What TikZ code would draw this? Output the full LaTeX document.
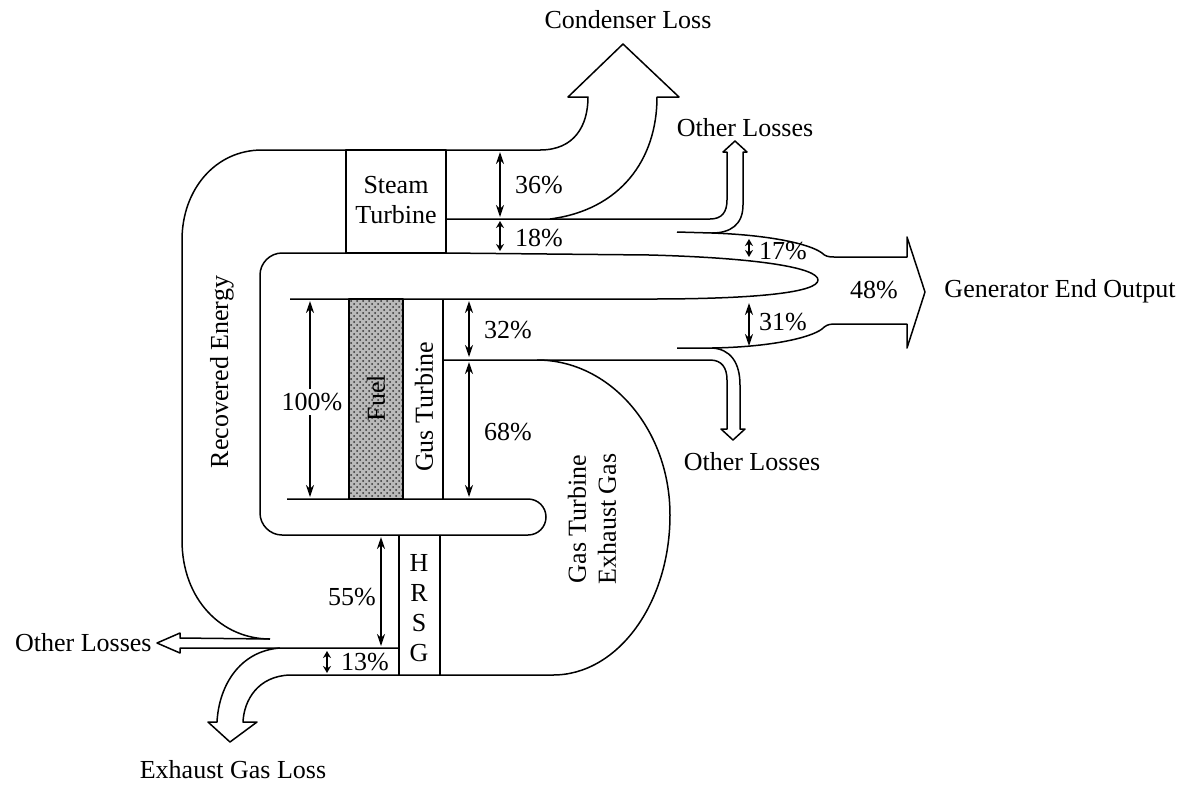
\documentclass[tikz,border=0pt]{standalone}
\usepackage{fontspec}
\setmainfont{Liberation Serif}
\usetikzlibrary{arrows.meta,patterns}
\begin{document}
\begin{tikzpicture}[x=0.5pt,y=-0.5pt,
  flow/.style={line width=0.75pt,line join=round},
  dim/.style={line width=0.75pt,{Stealth[length=6pt,width=4pt]}-{Stealth[length=6pt,width=4pt]}},
  smalldim/.style={line width=0.7pt,{Stealth[length=3.5pt,width=4pt]}-{Stealth[length=3.5pt,width=4pt]}},
  lbl/.style={font=\fontsize{13pt}{15pt}\selectfont, inner sep=1pt, align=center}]
\useasboundingbox (0,0) rectangle (1201,784);

% fuel fill
\fill[gray!55] (349,299) rectangle (403,499);
\fill[pattern=crosshatch dots, pattern color=gray!40!black] (349,299) rectangle (403,499);

% outer recovered energy loop and condenser loss arrow
\draw[flow] (270,639) .. controls (222,639) and (182,600) .. (182,540) -- (182,240)
  .. controls (182,190) and (215,150) .. (262,150) -- (540,150)
  .. controls (575,150) and (588,125) .. (588,97) -- (568,97) -- (623,44) -- (679,97) -- (657,97)
  .. controls (657,160) and (620,210) .. (550,219);

% steam turbine middle line and upper other losses arrow
\draw[flow] (446,219) -- (710,219) .. controls (722,219) and (727,212) .. (727,200) -- (727,152)
  -- (723,152) -- (735,141) -- (747,152) -- (743,152) -- (743,205)
  .. controls (743,225) and (730,233) .. (712,233);

% generator output arrow
\draw[flow] (677,232) -- (712,233) .. controls (770,235) and (810,244) .. (822,253)
  .. controls (825,256) and (828,257) .. (834,257) -- (907,257) -- (907,237) -- (925,292)
  -- (907,348) -- (907,324) -- (834,324) .. controls (828,324) and (825,326) .. (822,329)
  .. controls (810,338) and (770,347) .. (712,348) -- (677,348);

% lower other losses arrow
\draw[flow] (712,348) .. controls (730,349) and (740,362) .. (740,385) -- (740,429)
  -- (745,429) -- (733,440) -- (721,429) -- (727,429) -- (727,380)
  .. controls (727,368) and (722,360) .. (710,360) -- (443,360);

% inner loop with tongue
\draw[flow] (446,253) -- (282,253) .. controls (270,253) and (260,263) .. (260,275) -- (260,513)
  .. controls (260,525) and (270,535) .. (282,535) -- (528,535)
  .. controls (538,535) and (546,527) .. (546,517) .. controls (546,507) and (538,499) .. (528,499)
  -- (287,499);

% elongated loop to generator
\draw[flow] (446,253) -- (650,255) .. controls (760,258) and (818,268) .. (818,280)
  .. controls (818,292) and (760,299) .. (650,299) -- (290,299);

% boxes
\draw[flow] (346,150) rectangle (446,253);
\draw[flow] (349,299) rectangle (403,499);
\draw[flow] (443,299) -- (443,499);
\draw[flow] (399,535) -- (399,675);
\draw[flow] (440,535) -- (440,675);

% gas turbine exhaust gas
\draw[flow] (537,360) .. controls (610,360) and (670,429) .. (670,515)
  .. controls (670,603) and (618,675) .. (553,675);

% bottom line and exhaust gas loss arrow
\draw[flow] (553,675) -- (290,675) .. controls (258,676) and (244,700) .. (243,722)
  -- (257,722) -- (230,742) -- (208,722) -- (217,722)
  .. controls (219,685) and (240,651) .. (280,648);

% left other losses arrow
\draw[flow] (399,648) -- (180,648) -- (180,653) -- (157,643) -- (180,633) -- (180,638) -- (270,639);

% dimension arrows
\coordinate (a36t) at (500,152); \coordinate (a36b) at (500,217);
\coordinate (a18t) at (500,221); \coordinate (a18b) at (500,251);
\coordinate (a17t) at (749,239); \coordinate (a17b) at (749,257);
\coordinate (a31t) at (749,303); \coordinate (a31b) at (749,346);
\coordinate (a32t) at (469,301); \coordinate (a32b) at (469,357);
\coordinate (a68t) at (469,362); \coordinate (a68b) at (469,497);
\coordinate (a100t) at (310,301); \coordinate (a100b) at (310,497);
\coordinate (a55t) at (381,537); \coordinate (a55b) at (381,646);
\coordinate (a13t) at (327,651); \coordinate (a13b) at (327,673);

\draw[dim] (a36t) -- (a36b);
\draw[smalldim] (a18t) -- (a18b);
\draw[smalldim] (a17t) -- (a17b);
\draw[dim] (a31t) -- (a31b);
\draw[dim] (a32t) -- (a32b);
\draw[dim] (a68t) -- (a68b);
\draw[dim] (a100t) -- (a100b);
\draw[dim] (a55t) -- (a55b);
\draw[smalldim] (a13t) -- (a13b);

% labels
\node[lbl] (p36) at (539,185) {36\%};
\node[lbl] (p18) at (539,238) {18\%};
\node[lbl] (p17) at (783,251) {17\%};
\node[lbl] (p31) at (783,322) {31\%};
\node[lbl] (p48) at (874,290) {48\%};
\node[lbl] (p32) at (508,330) {32\%};
\node[lbl] (p68) at (508,432) {68\%};
\node[lbl,fill=white,inner sep=2pt] (p100) at (312,402) {100\%};
\node[lbl] (p55) at (352,597) {55\%};
\node[lbl] (p13) at (365,662) {13\%};

\node[lbl] (st) at (396,200) {Steam\\Turbine};
\node[lbl,rotate=90] (fuel) at (376,398) {Fuel};
\node[lbl,rotate=90] (gt) at (424,407) {Gus Turbine};
\node[lbl] (hrsg) at (419,608) {H\\R\\S\\G};
\node[lbl,rotate=90] (rec) at (222,372) {Recovered Energy};
\node[lbl,rotate=90] (ex) at (592,519) {Gas Turbine\\Exhaust Gas};

\node[lbl] (cond) at (628,20) {Condenser Loss};
\node[lbl] (ol1) at (745,128) {Other Losses};
\node[lbl] (ol2) at (752,462) {Other Losses};
\node[lbl,anchor=east] (ol3) at (154,643) {Other Losses};
\node[lbl] (gen) at (1060,291) {Generator End Output};
\node[lbl] (exl) at (233,770) {Exhaust Gas Loss};
\end{tikzpicture}
\end{document}
